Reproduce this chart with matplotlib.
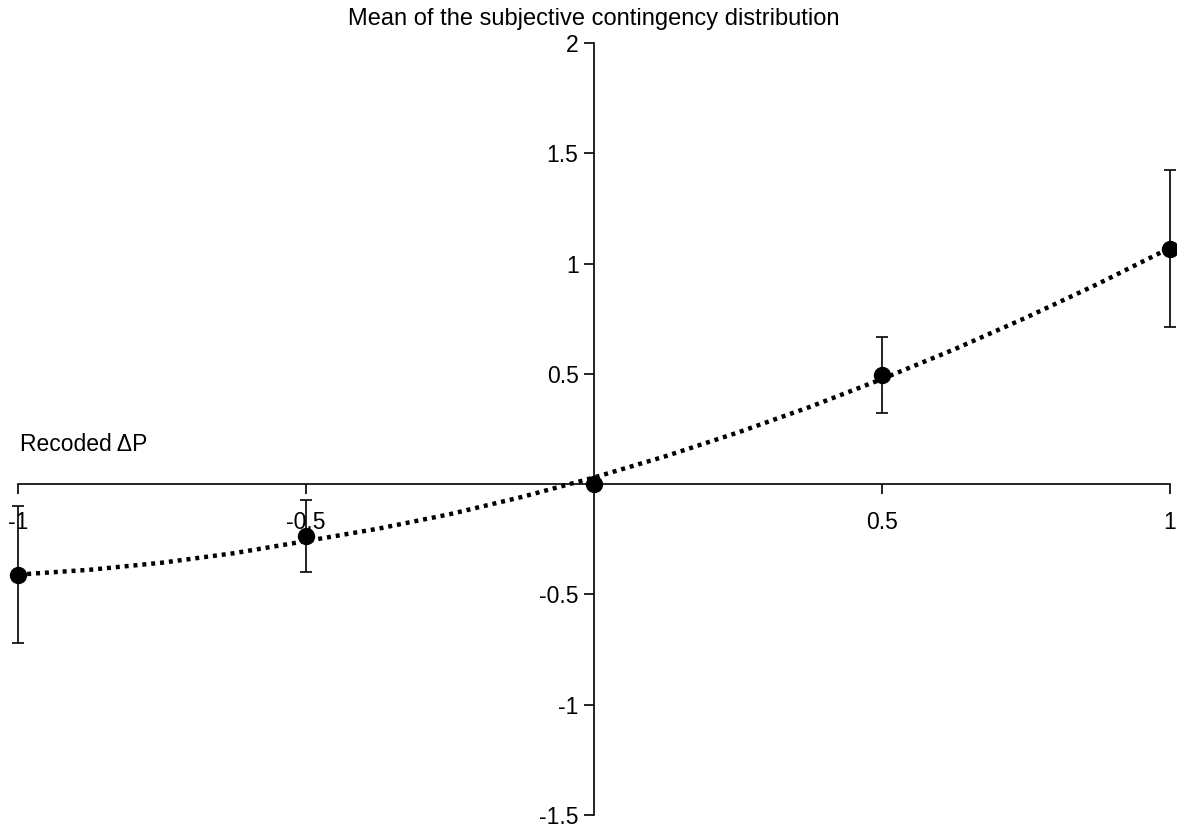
import numpy as np
import matplotlib
matplotlib.use('Agg')
import matplotlib.pyplot as plt

plt.rcParams['font.family'] = ['Liberation Sans', 'DejaVu Sans']

# observed means with error bars
delta_p = [-1.0, -0.5, 0.0, 0.5, 1.0]
means = [-0.41, -0.235, 0.0, 0.495, 1.068]
errors = [0.31, 0.163, 0.0, 0.173, 0.357]

# fitted curve
curve_x = [-1.0, -0.875, -0.75, -0.625, -0.5, -0.375, -0.25, -0.125, 0.0,
           0.125, 0.25, 0.375, 0.5, 0.625, 0.75, 0.875, 1.0]
curve_y = [-0.41, -0.388, -0.356, -0.313, -0.258, -0.202, -0.136, -0.058, 0.03,
           0.127, 0.234, 0.35, 0.476, 0.61, 0.754, 0.907, 1.07]

xticks = [-1, -0.5, 0.5, 1]
xlabels = ['-1', '-0.5', '0.5', '1']
yticks = [-1.5, -1, -0.5, 0.5, 1, 1.5, 2]
ylabels = ['-1.5', '-1', '-0.5', '0.5', '1', '1.5', '2']

fig = plt.figure(figsize=(11.77, 8.30), dpi=100)
ax = fig.add_axes([18.3 / 1177, 1 - 815 / 830, 1151.2 / 1177, 772 / 830])

ax.plot(curve_x, curve_y, color='black', lw=3.2, linestyle=(0, (0.9, 1.1)),
        dash_capstyle='butt', clip_on=False, zorder=2)
ax.errorbar(delta_p, means, yerr=errors, fmt='o', color='black', ms=11.5,
            elinewidth=1.2, capsize=4, capthick=1.2, clip_on=False, zorder=3)

ax.set_xlim(-1, 1)
ax.set_ylim(-1.5, 2)

ax.spines['left'].set_position(('data', 0))
ax.spines['bottom'].set_position(('data', 0))
ax.spines['right'].set_visible(False)
ax.spines['top'].set_visible(False)
for s in ['left', 'bottom']:
    ax.spines[s].set_linewidth(1.2)

ax.set_xticks(xticks)
ax.set_xticklabels(xlabels)
ax.set_yticks(yticks)
ax.set_yticklabels(ylabels)
ax.tick_params(axis='x', direction='out', length=7, width=1.2, pad=12, labelsize=16.5)
ax.tick_params(axis='y', direction='out', length=7, width=1.2, pad=4, labelsize=16.5)
ax.patch.set_visible(False)

fig.text(594 / 1177, 1 - 19 / 830, 'Mean of the subjective contingency distribution',
         ha='center', va='center', fontsize=17)
ax.text(-0.997, 0.15, 'Recoded ΔP', ha='left', va='baseline', fontsize=16.5)

fig.savefig('out.png', dpi=100)
